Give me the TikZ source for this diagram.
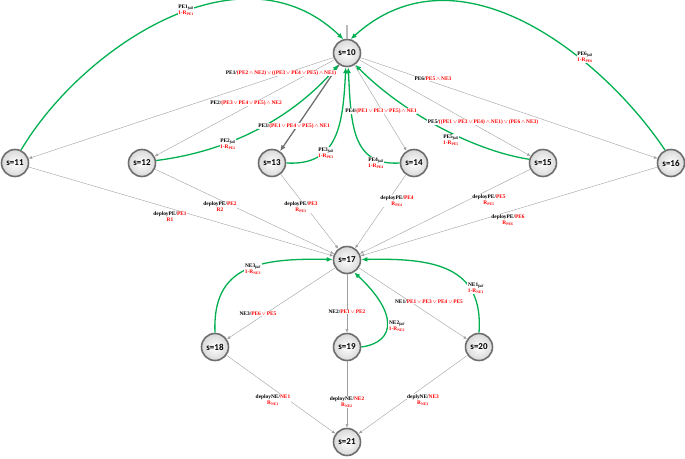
\documentclass[tikz,border=0pt]{standalone}
\usepackage{fontspec}
\setmainfont{Liberation Serif}
\newfontfamily\statefont{Carlito}
\usetikzlibrary{arrows.meta}
\definecolor{failgreen}{HTML}{00B050}
\definecolor{condred}{HTML}{FF0000}
\definecolor{ringgray}{HTML}{6E6E6E}
\newcommand{\cnd}[1]{\textcolor{condred}{#1}}
\newcommand{\wedgesym}{\hspace{0.6pt}$\wedge$\hspace{0.6pt}}
\newcommand{\veesym}{\hspace{0.6pt}$\vee$\hspace{0.6pt}}
\newcommand{\failof}[1]{#1\textsubscript{\itshape fail}}
\newcommand{\relof}[1]{R\textsubscript{#1}}

\begin{document}
\begin{tikzpicture}[
  x=1pt, y=-1pt,
  state/.style={circle, draw=ringgray, line width=1.6pt, inner color=white, outer color=black!15,
    minimum size=27pt, inner sep=0pt, font=\statefont\bfseries\fontsize{9}{10}\selectfont},
  lbl/.style={fill=white, inner sep=0.6pt, align=center, font=\bfseries\fontsize{5.4}{5.9}\selectfont},
  move/.style={draw=gray!75, line width=0.4pt, -{Latex[length=3.5pt,width=3pt]}},
  pick/.style={draw=ringgray, line width=1.3pt, -{Latex[length=6pt,width=5pt]}},
  fail/.style={draw=failgreen, line width=1.3pt, -{Latex[length=6pt,width=5pt]}},
  initline/.style={draw=gray!55, line width=1.8pt}
]
\useasboundingbox (0,0) rectangle (685,458);

\node[state] (s10) at (347,53) {s=10};
\node[state] (s11) at (15,163) {s=11};
\node[state] (s12) at (142,163) {s=12};
\node[state] (s13) at (272,163) {s=13};
\node[state] (s14) at (414,163) {s=14};
\node[state] (s15) at (543,163) {s=15};
\node[state] (s16) at (671,163) {s=16};
\node[state] (s17) at (347,260) {s=17};
\node[state] (s18) at (215,347) {s=18};
\node[state] (s19) at (347,347) {s=19};
\node[state] (s20) at (479,347) {s=20};
\node[state] (s21) at (347,442) {s=21};
\coordinate (init) at (347,25);

\draw[initline] (init) -- (s10.north);
\draw[move] (s10) -- (s11);
\draw[move] (s10) -- (s12);
\draw[pick] (s10) -- (s13);
\draw[move] (s10) -- (s14);
\draw[move] (s10) -- (s15);
\draw[move] (s10) -- (s16);
\draw[move] (s11) -- (s17);
\draw[move] (s12) -- (s17);
\draw[move] (s13) -- (s17);
\draw[move] (s14) -- (s17);
\draw[move] (s15) -- (s17);
\draw[move] (s16) -- (s17);
\draw[move] (s17) -- (s18);
\draw[move] (s17) -- (s19);
\draw[move] (s17) -- (s20);
\draw[move] (s18) -- (s21);
\draw[move] (s19) -- (s21);
\draw[move] (s20) -- (s21);

\draw[fail] (s11.65) .. controls (80,50) and (240,-60) .. (s10.105);
\draw[fail] (s16.115) .. controls (605,60) and (460,-60) .. (s10.75);
\draw[fail] (s12.10) .. controls (240,150) and (300,110) .. (s10.234);
\draw[fail] (s13.east) .. controls (338,166) and (343,125) .. (s10.265);
\draw[fail] (s14.west) .. controls (352,166) and (351,125) .. (s10.275);
\draw[fail] (s15.165) .. controls (470,150) and (400,110) .. (s10.305);
\draw[fail] (s18.north) .. controls (212,265) and (260,258) .. (s17.178);
\draw[fail] (s20.north) .. controls (484,265) and (432,258) .. (s17.2);
\draw[fail] (s19.east) .. controls (397,342) and (397,312) .. (s17.300);

\node[lbl] (c11) at (281,73) {PE1/\cnd{(PE2\wedgesym NE2)\veesym((PE3\veesym PE4\veesym PE5)\wedgesym NE1)}};
\node[lbl] (c12) at (246,103) {PE2/\cnd{(PE3\veesym PE4\veesym PE5)\wedgesym NE2}};
\node[lbl] (c13) at (294,126) {PE3/\cnd{(PE1\veesym PE4\veesym PE5)\wedgesym NE1}};
\node[lbl] (c14) at (381,111) {PE4/\cnd{(PE1\veesym PE3\veesym PE5)\wedgesym NE1}};
\node[lbl] (c15) at (483,122) {PE5/\cnd{((PE1\veesym PE3\veesym PE4)\wedgesym NE1)\veesym(PE6\wedgesym NE3)}};
\node[lbl] (c16) at (433,79) {PE6/\cnd{PE5\wedgesym NE3}};

\node[lbl] (f11) at (186,10) {\failof{PE1}\\\cnd{1-\relof{PE1}}};
\node[lbl] (f12) at (228,144) {\failof{PE2}\\\cnd{1-\relof{PE2}}};
\node[lbl] (f13) at (326,153) {\failof{PE3}\\\cnd{1-\relof{PE3}}};
\node[lbl] (f14) at (376,163) {\failof{PE4}\\\cnd{1-\relof{PE4}}};
\node[lbl] (f15) at (451,140) {\failof{PE5}\\\cnd{1-\relof{PE5}}};
\node[lbl] (f16) at (585,57) {\failof{PE6}\\\cnd{1-\relof{PE6}}};

\node[lbl] (d11) at (170,217) {deployPE/\cnd{PE1}\\\cnd{R1}};
\node[lbl] (d12) at (220,207) {deployPE/\cnd{PE2}\\\cnd{R2}};
\node[lbl] (d13) at (301,207) {deployPE/\cnd{PE3}\\\cnd{\relof{PE3}}};
\node[lbl] (d14) at (397,201) {deployPE/\cnd{PE4}\\\cnd{\relof{PE4}}};
\node[lbl] (d15) at (489,200) {deployPE/\cnd{PE5}\\\cnd{\relof{PE5}}};
\node[lbl] (d16) at (508,220) {deployPE/\cnd{PE6}\\\cnd{\relof{PE6}}};

\node[lbl] (n18) at (258,314) {NE3/\cnd{PE6\veesym PE5}};
\node[lbl] (n19) at (347,312) {NE2/\cnd{PE1\veesym PE2}};
\node[lbl] (n20) at (429,302) {NE1/\cnd{PE1\veesym PE3\veesym PE4\veesym PE5}};

\node[lbl] (g18) at (253,269) {\failof{NE3}\\\cnd{1-\relof{NE3}}};
\node[lbl] (g19) at (397,326) {\failof{NE2}\\\cnd{1-\relof{NE2}}};
\node[lbl] (g20) at (476,288) {\failof{NE1}\\\cnd{1-\relof{NE1}}};

\node[lbl] (e18) at (273,400) {deployNE/\cnd{NE1}\\\cnd{\relof{NE1}}};
\node[lbl] (e19) at (347,402) {deployNE/\cnd{NE2}\\\cnd{\relof{NE2}}};
\node[lbl] (e20) at (423,400) {deplyNE/\cnd{NE3}\\\cnd{\relof{NE3}}};
\end{tikzpicture}
\end{document}
